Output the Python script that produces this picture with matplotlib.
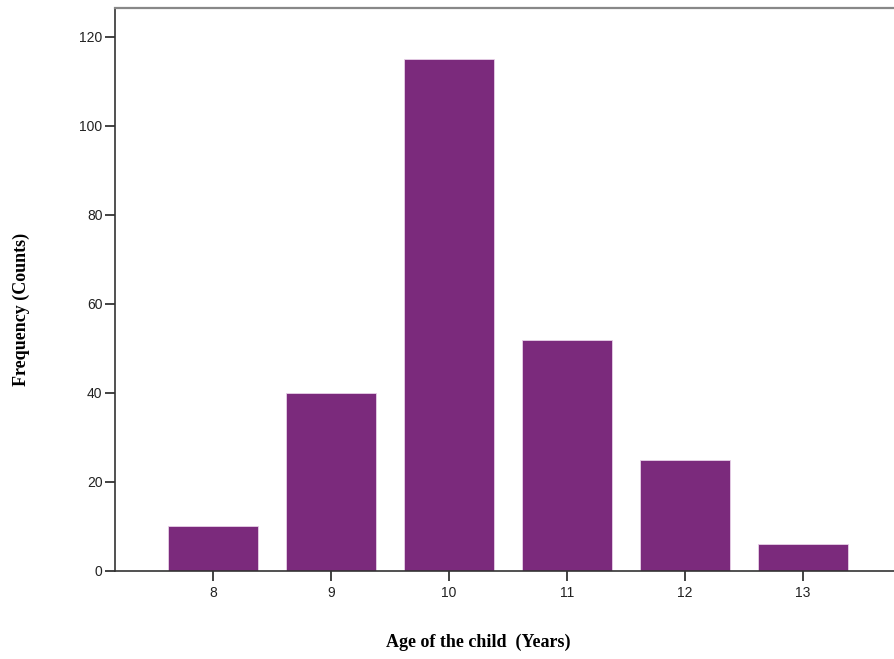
import matplotlib
matplotlib.use("Agg")
import matplotlib.pyplot as plt

# Data
ages = [8, 9, 10, 11, 12, 13]
counts = [10, 40, 115, 52, 25, 6]
y_ticks = [0, 20, 40, 60, 80, 100, 120]

bar_color = "#7B2A7C"

fig = plt.figure(figsize=(8.94, 6.59), dpi=100)
W, H = 894, 659
# axes box in pixels: left 115, top 8, bottom 571, right runs off the edge
ax = fig.add_axes([115 / W, (H - 571) / H, (901 - 115) / W, (571 - 8) / H])

ax.bar(ages, counts, width=0.763, color=bar_color, edgecolor="#E8D0E8", linewidth=0.6)

ax.set_xlim(7.17, 13.83)
ax.set_ylim(0, 126.5)
ax.set_xticks(ages)
ax.set_xticklabels([str(a) for a in ages])
ax.set_yticks(y_ticks)

for side in ["left", "bottom", "top"]:
    ax.spines[side].set_color("#333333")
    ax.spines[side].set_linewidth(1.2)
ax.spines["right"].set_visible(False)
ax.spines["top"].set_color("#888888")
ax.spines["top"].set_linewidth(1.6)

ax.tick_params(axis="both", direction="out", length=7, width=1.2, color="#222222",
               labelsize=10, labelcolor="#222222")
ax.tick_params(axis="y", pad=2)
ax.tick_params(axis="x", pad=4)
for lbl in ax.get_xticklabels() + ax.get_yticklabels():
    lbl.set_fontfamily("Liberation Sans")

fig.text(478 / W, 1 - 642 / H, "Age of the child  (Years)", ha="center", va="center",
         fontsize=13, fontweight="bold", fontfamily="Liberation Serif")
fig.text(21 / W, 1 - 309 / H, "Frequency (Counts)", ha="center", va="center", rotation=90,
         fontsize=13, fontweight="bold", fontfamily="Liberation Serif")

fig.savefig("out.png", dpi=100)
